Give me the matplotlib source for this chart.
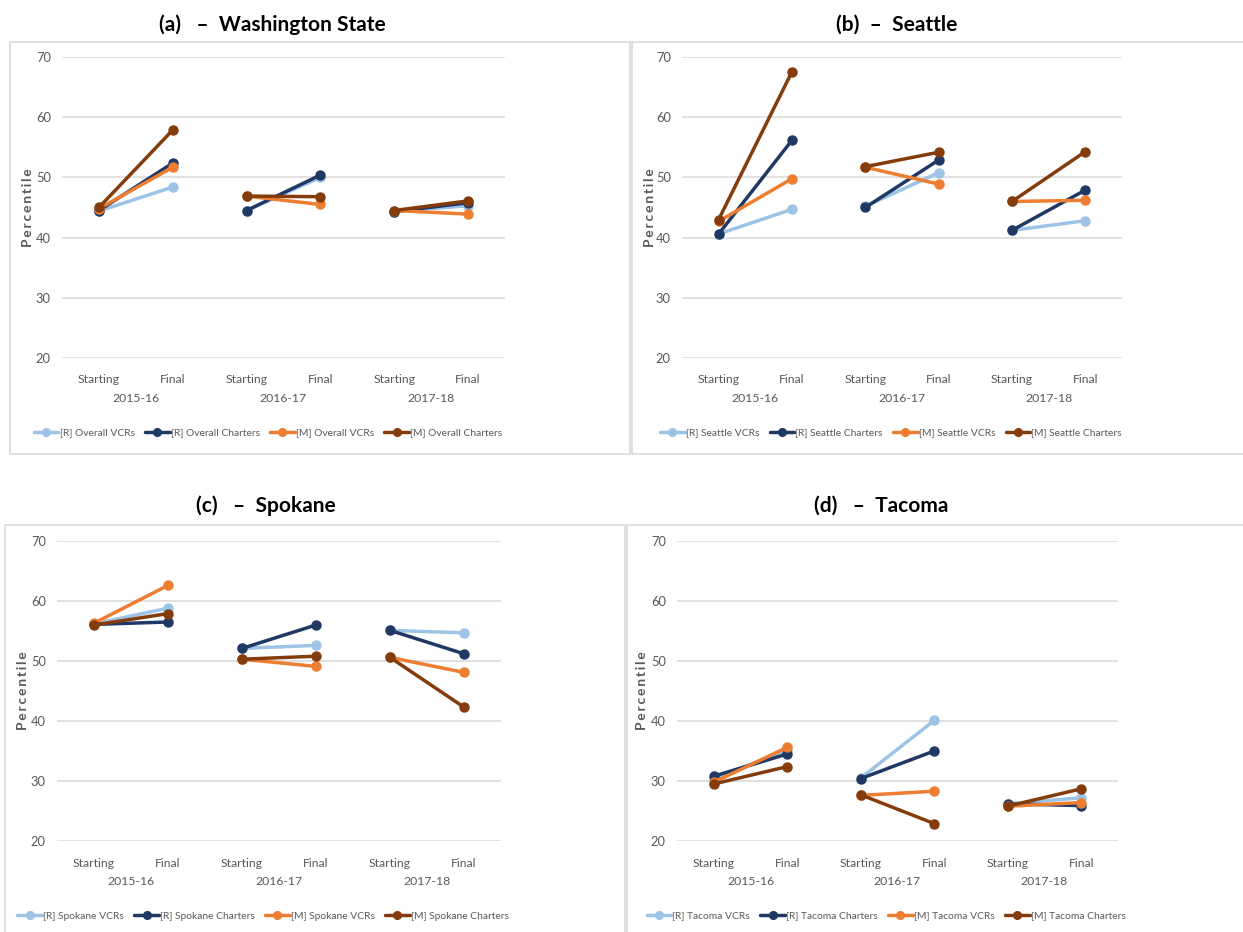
import matplotlib
matplotlib.use("Agg")
import matplotlib.pyplot as plt
from matplotlib.patches import Rectangle
from matplotlib.transforms import blended_transform_factory

plt.rcParams['font.family'] = ['Lato', 'DejaVu Sans']

# ---------------- data ----------------
years = ["2015-16", "2016-17", "2017-18"]
stages = ["Starting", "Final"]
series_prefix = ["[R]", "[R]", "[M]", "[M]"]
series_kind = ["VCRs", "Charters", "VCRs", "Charters"]

wa_r_vcrs = [44.4, 48.4, 44.5, 50.0, 44.3, 45.3]
wa_r_charters = [44.5, 52.4, 44.5, 50.4, 44.3, 45.8]
wa_m_vcrs = [44.8, 51.7, 46.9, 45.5, 44.5, 43.9]
wa_m_charters = [45.0, 57.9, 46.9, 46.8, 44.5, 46.1]

sea_r_vcrs = [40.6, 44.7, 45.2, 50.8, 41.2, 42.8]
sea_r_charters = [40.6, 56.2, 45.0, 52.9, 41.2, 47.9]
sea_m_vcrs = [42.7, 49.8, 51.7, 48.9, 46.0, 46.2]
sea_m_charters = [43.0, 67.6, 51.8, 54.2, 46.0, 54.3]

spo_r_vcrs = [56.2, 58.8, 52.1, 52.6, 55.1, 54.7]
spo_r_charters = [56.1, 56.5, 52.1, 56.0, 55.1, 51.2]
spo_m_vcrs = [56.3, 62.6, 50.3, 49.1, 50.6, 48.1]
spo_m_charters = [56.0, 57.9, 50.3, 50.8, 50.6, 42.3]

tac_r_vcrs = [30.5, 35.1, 30.5, 40.1, 26.2, 27.2]
tac_r_charters = [30.8, 34.5, 30.4, 35.0, 26.2, 25.9]
tac_m_vcrs = [29.8, 35.6, 27.6, 28.3, 25.8, 26.4]
tac_m_charters = [29.5, 32.4, 27.7, 22.9, 25.8, 28.7]

panel_titles = ["(a)   \u2013  Washington State", "(b)  \u2013  Seattle",
                "(c)   \u2013  Spokane", "(d)   \u2013  Tacoma"]
panel_names = ["Overall", "Seattle", "Spokane", "Tacoma"]
panel_data = [
    [wa_r_vcrs, wa_r_charters, wa_m_vcrs, wa_m_charters],
    [sea_r_vcrs, sea_r_charters, sea_m_vcrs, sea_m_charters],
    [spo_r_vcrs, spo_r_charters, spo_m_vcrs, spo_m_charters],
    [tac_r_vcrs, tac_r_charters, tac_m_vcrs, tac_m_charters],
]
y_ticks = [20, 30, 40, 50, 60, 70]
y_label = "Percentile"

# ---------------- style ----------------
colors = ["#9DC3E6", "#1F3864", "#ED7D31", "#843C0C"]
W, H = 1243, 932
fig = plt.figure(figsize=(W / 100, H / 100), dpi=100)
fig.patch.set_facecolor("white")

# plot areas in pixels: (left, top, right, bottom)
plot_px = [(62, 57.3, 505, 357.7), (682, 57.3, 1122, 357.7),
           (57, 541, 501, 841), (677, 541, 1118, 841)]
box_px = [(10, 42, 630, 454), (632, 42, 1250, 454),
          (5, 525, 625, 940), (627, 525, 1250, 940)]
title_px = [(272, 25), (897, 25), (266, 506), (881, 506)]
legend_px = [(268, 433), (891, 433), (263, 916), (886, 916)]
ylabel_x_px = [28, 650, 23, 642]

grey = "#595959"

def fx(x):
    return x / W

def fy(y):
    return 1 - y / H

spaced_label = "\u2009".join(y_label)

for i in range(4):
    bl, bt, br, bb = box_px[i]
    fig.patches.append(Rectangle((fx(bl), fy(bb)), fx(br - bl), (bb - bt) / H,
                                 transform=fig.transFigure, fill=False,
                                 edgecolor="#D9D9D9", linewidth=1.2, zorder=0))
    l, t, r, b = plot_px[i]
    ax = fig.add_axes([fx(l), fy(b), fx(r - l), (b - t) / H])
    ax.set_xlim(-0.5, 5.5)
    ax.set_ylim(20, 70)
    for s in ax.spines.values():
        s.set_visible(False)
    ax.set_yticks(y_ticks)
    ax.yaxis.grid(True, color="#D9D9D9", linewidth=1.1)
    ax.set_axisbelow(True)
    ax.tick_params(axis="both", length=0, labelcolor=grey)
    ax.tick_params(axis="x", pad=12, labelsize=8.8)
    ax.tick_params(axis="y", pad=8, labelsize=9.3)
    ax.set_xticks(range(6))
    ax.set_xticklabels(stages * 3)
    trans = blended_transform_factory(ax.transData, ax.transAxes)
    for k, yr in enumerate(years):
        ax.text(2 * k + 0.5, -0.135, yr, transform=trans, ha="center", va="center",
                fontsize=8.8, color=grey)
    for j in range(4):
        vals = panel_data[i][j]
        label = f"{series_prefix[j]} {panel_names[i]} {series_kind[j]}"
        for k in range(3):
            ax.plot([2 * k, 2 * k + 1], vals[2 * k:2 * k + 2], color=colors[j],
                    linewidth=2.5, marker="o", markersize=6.5,
                    label=label if k == 0 else None, zorder=3 + j,
                    solid_capstyle="round")
    fig.text(fx(ylabel_x_px[i]), fy((t + b) / 2 - 0), spaced_label, rotation=90,
             ha="center", va="center", fontsize=10, fontweight="bold", color=grey)
    fig.text(fx(title_px[i][0]), fy(title_px[i][1]), panel_titles[i], ha="center",
             va="center", fontsize=15, fontweight="bold", color="black")
    ax.legend(loc="center", bbox_to_anchor=(fx(legend_px[i][0]), fy(legend_px[i][1])),
              bbox_transform=fig.transFigure, ncol=4, frameon=False, fontsize=7.4,
              labelcolor=grey, handlelength=2.4, handletextpad=0.1,
              columnspacing=1.0, borderaxespad=0, markerscale=0.85)

fig.savefig("out.png", dpi=100, facecolor="white")
